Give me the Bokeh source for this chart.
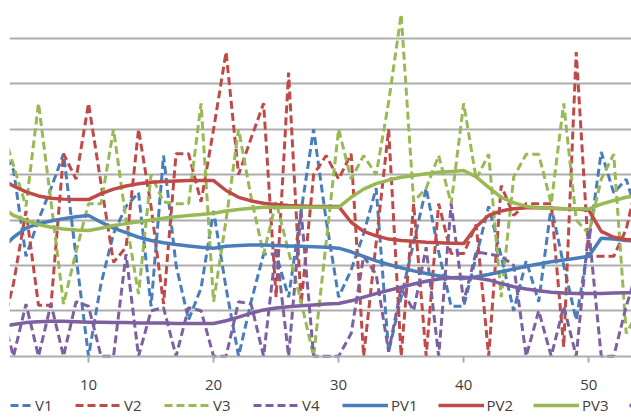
from bokeh.plotting import figure
from bokeh.models import Range1d, FixedTicker, Legend, LegendItem
from bokeh.embed import file_html
from bokeh.resources import INLINE

x = list(range(3, 55))

V1 = [4.6, 4.1, 2.2, 3.0, 3.7, 4.46, 2.2, 0.0, 1.6, 2.7, 3.3, 3.6, 1.1, 4.42, 2.0, 0.8,
      1.5, 3.2, 1.5, 0.0, 1.2, 2.25, 2.25, 1.3, 3.2, 5.0, 3.0, 1.3, 1.9, 2.7, 3.7, 0.1,
      1.3, 2.5, 3.7, 2.3, 1.1, 1.1, 2.2, 3.3, 2.2, 1.0, 2.1, 1.2, 3.3, 2.0, 0.8, 2.5,
      4.5, 3.6, 3.9, 3.0]
V2 = [0.5, 1.6, 3.2, 1.12, 1.12, 4.46, 3.9, 5.57, 3.8, 2.07, 2.4, 5.0, 3.3, 1.15, 4.46, 4.46,
      3.4, 5.0, 6.7, 4.0, 4.8, 5.57, 1.3, 6.25, 1.15, 4.0, 4.42, 3.9, 4.46, 0.0, 2.5, 5.0,
      0.0, 3.36, 0.0, 3.36, 2.26, 2.26, 2.9, 0.0, 3.76, 3.1, 3.36, 3.36, 3.36, 0.2, 6.7, 2.2,
      2.2, 2.2, 2.8, 4.0]
V3 = [5.1, 4.2, 3.3, 5.57, 3.4, 1.15, 2.3, 3.36, 3.36, 5.0, 3.0, 1.37, 4.0, 3.4, 3.36, 3.36,
      5.57, 1.2, 3.0, 5.0, 3.5, 2.25, 3.4, 2.3, 1.2, 0.0, 2.5, 5.0, 3.9, 4.42, 4.0, 5.6,
      7.53, 3.4, 3.7, 4.42, 3.36, 5.57, 3.9, 4.45, 1.3, 3.95, 4.45, 4.45, 3.36, 5.57, 3.0, 2.7,
      3.9, 4.45, 0.5, 1.0]
V4 = [1.0, 0.0, 1.15, 0.0, 1.15, 0.0, 1.2, 1.1, 0.0, 0.0, 2.25, 0.0, 1.0, 1.07, 0.0, 1.07,
      1.0, 0.0, 0.0, 1.2, 1.15, 0.0, 2.4, 0.0, 3.2, 0.0, 0.0, 0.0, 0.5, 2.2, 1.8, 0.1,
      1.5, 1.0, 2.4, 0.0, 3.36, 1.2, 2.3, 2.25, 2.2, 2.0, 0.0, 1.0, 0.0, 1.1, 0.0, 2.8,
      0.0, 0.0, 1.1, 2.0]
PV1 = [2.35, 2.62, 2.82, 2.92, 2.98, 3.03, 3.07, 3.1, 2.95, 2.82, 2.72, 2.62, 2.55, 2.5, 2.46, 2.43,
       2.4, 2.38, 2.42, 2.44, 2.45, 2.45, 2.44, 2.43, 2.42, 2.41, 2.4, 2.38, 2.3, 2.2, 2.1, 2.02,
       1.95, 1.88, 1.82, 1.77, 1.73, 1.71, 1.75, 1.8, 1.86, 1.92, 1.98, 2.03, 2.08, 2.12, 2.16, 2.2,
       2.6, 2.58, 2.55, 2.53]
PV2 = [3.9, 3.75, 3.62, 3.53, 3.48, 3.46, 3.45, 3.45, 3.58, 3.68, 3.75, 3.8, 3.83, 3.85, 3.86, 3.87,
       3.87, 3.87, 3.65, 3.5, 3.42, 3.37, 3.34, 3.32, 3.31, 3.3, 3.3, 3.3, 2.95, 2.75, 2.65, 2.58,
       2.55, 2.53, 2.51, 2.5, 2.49, 2.48, 2.85, 3.1, 3.2, 3.25, 3.27, 3.27, 3.26, 3.25, 3.24, 3.22,
       2.75, 2.62, 2.57, 2.55]
PV3 = [3.3, 3.1, 2.99, 2.9, 2.84, 2.8, 2.78, 2.77, 2.82, 2.88, 2.92, 2.96, 3.0, 3.04, 3.07, 3.1,
       3.12, 3.15, 3.2, 3.23, 3.26, 3.28, 3.28, 3.28, 3.28, 3.28, 3.28, 3.28, 3.5, 3.68, 3.8, 3.88,
       3.94, 3.98, 4.02, 4.05, 4.07, 4.09, 3.95, 3.72, 3.5, 3.38, 3.3, 3.27, 3.26, 3.25, 3.25, 3.24,
       3.35, 3.43, 3.5, 3.55]
PV4 = [0.65, 0.7, 0.74, 0.76, 0.77, 0.77, 0.76, 0.75, 0.75, 0.74, 0.74, 0.73, 0.73, 0.73, 0.72, 0.72,
       0.72, 0.72, 0.78, 0.86, 0.95, 1.02, 1.06, 1.09, 1.11, 1.13, 1.15, 1.16, 1.22, 1.3, 1.38, 1.45,
       1.52, 1.59, 1.65, 1.7, 1.73, 1.74, 1.72, 1.68, 1.6, 1.53, 1.48, 1.44, 1.41, 1.39, 1.38, 1.38,
       1.38, 1.39, 1.4, 1.4]

names = ["V1", "V2", "V3", "V4", "PV1", "PV2", "PV3", "PV4"]
series = [V1, V2, V3, V4, PV1, PV2, PV3, PV4]
x_ticks = [10, 20, 30, 40, 50]
y_grid = [1, 2, 3, 4, 5, 6, 7]

colors = ["#4A7EBB", "#BE4B48", "#98B954", "#7D60A0"]
GRID = "#ADADAD"
FONT = "Open Sans"

p = figure(width=631, height=417, output_backend="svg", toolbar_location=None,
           x_range=Range1d(3.68, 53.42), y_range=Range1d(-1.350, 7.835),
           y_axis_location=None, min_border_left=9, min_border_right=0,
           min_border_top=0, min_border_bottom=0, outline_line_color=None,
           background_fill_color="white", border_fill_color="white")

p.xgrid.visible = False
p.ygrid.ticker = FixedTicker(ticks=y_grid)
p.ygrid.grid_line_color = GRID
p.ygrid.grid_line_width = 2

ax = p.xaxis[0]
ax.fixed_location = 0
ax.ticker = FixedTicker(ticks=x_ticks)
ax.axis_line_color = GRID
ax.axis_line_width = 2
ax.major_tick_line_color = GRID
ax.major_tick_line_width = 2
ax.major_tick_out = 6
ax.major_tick_in = 0
ax.minor_tick_line_color = None
ax.major_label_text_font = FONT
ax.major_label_text_font_size = "15px"
ax.major_label_text_color = "#404040"
ax.major_label_standoff = 18

items = []
for i, (name, ys) in enumerate(zip(names, series)):
    c = colors[i % 4]
    if i < 4:
        r = p.line(x, ys, line_color=c, line_width=3, line_dash="8 4")
    else:
        r = p.line(x, ys, line_color=c, line_width=3.5)
    items.append(LegendItem(label=name, renderers=[r]))

legend = Legend(items=items, orientation="horizontal", location=(-23, 2),
                glyph_width=46, glyph_height=16, label_standoff=3, spacing=20,
                padding=0, margin=0, border_line_color=None, background_fill_alpha=0,
                label_text_font=FONT, label_text_font_size="15px",
                label_text_color="#404040", label_height=16)
p.add_layout(legend)

open("out.html", "w").write(file_html(p, INLINE))
